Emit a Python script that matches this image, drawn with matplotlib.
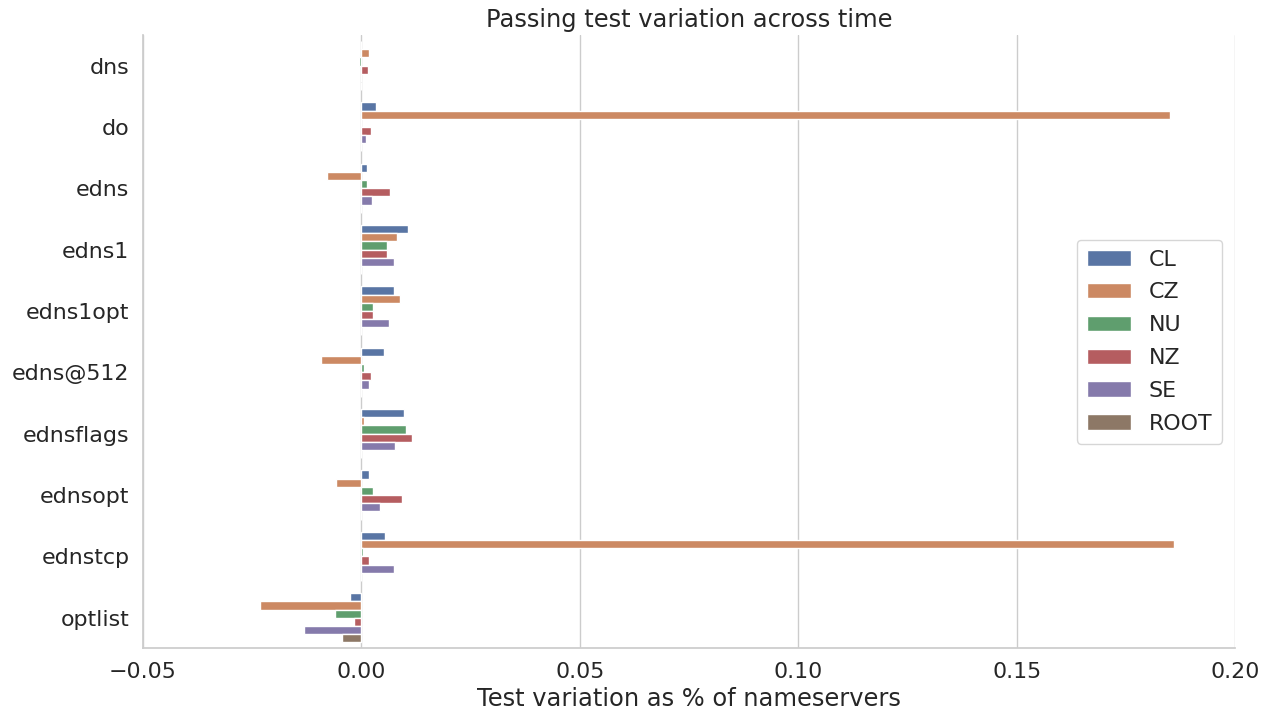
import matplotlib
matplotlib.use("Agg")
import matplotlib.pyplot as plt
import seaborn as sns
import pandas as pd

tests = ["dns", "do", "edns", "edns1", "edns1opt", "edns@512", "ednsflags",
         "ednsopt", "ednstcp", "optlist"]
zones = ["CL", "CZ", "NU", "NZ", "SE", "ROOT"]

CL = [0.0, 0.0035, 0.0013, 0.0107, 0.0074, 0.0053, 0.0099, 0.0017, 0.0054, -0.0025]
CZ = [0.0017, 0.185, -0.0078, 0.0083, 0.0089, -0.0092, 0.0007, -0.0057, 0.186, -0.0231]
NU = [-0.0005, 0.0, 0.0013, 0.0058, 0.0026, 0.0007, 0.0102, 0.0028, 0.0005, -0.0059]
NZ = [0.0015, 0.0023, 0.0066, 0.0060, 0.0028, 0.0022, 0.0117, 0.0094, 0.0017, -0.0016]
SE = [0.0, 0.0012, 0.0025, 0.0074, 0.0063, 0.0018, 0.0078, 0.0044, 0.0074, -0.0130]
ROOT = [0.0, 0.0, 0.0, 0.0, 0.0, 0.0, 0.0, 0.0, 0.0, -0.0044]

series = {"CL": CL, "CZ": CZ, "NU": NU, "NZ": NZ, "SE": SE, "ROOT": ROOT}
rows = []
for z in zones:
    for t, v in zip(tests, series[z]):
        rows.append({"test": t, "zone": z, "value": v})
df = pd.DataFrame(rows)

sns.set_theme(style="whitegrid", context="notebook", font_scale=1.45)
plt.rcParams['font.family'] = ['DejaVu Sans']

fig, ax = plt.subplots(figsize=(12.62, 7.11), dpi=100)
sns.barplot(data=df, y="test", x="value", hue="zone", order=tests,
            hue_order=zones, orient="h", ax=ax, errorbar=None, palette="deep")
ax.set_xlim(-0.05, 0.20)
ax.set_xticks([-0.05, 0.0, 0.05, 0.10, 0.15, 0.20])
ax.set_xticklabels(["\u22120.05", "0.00", "0.05", "0.10", "0.15", "0.20"])
ax.set_ylabel("")
ax.set_xlabel("Test variation as % of nameservers")
ax.set_title("Passing test variation across time")
ax.grid(axis="y", visible=False)
sns.despine(ax=ax)
leg = ax.legend(loc="center right", title=None, frameon=True,
                labelspacing=0.58, borderpad=0.45, handlelength=2.0,
                bbox_to_anchor=(0.998, 0.5))
fig.subplots_adjust(left=0.113, right=0.979, top=0.951, bottom=0.088)
fig.savefig("out.png", dpi=100)
